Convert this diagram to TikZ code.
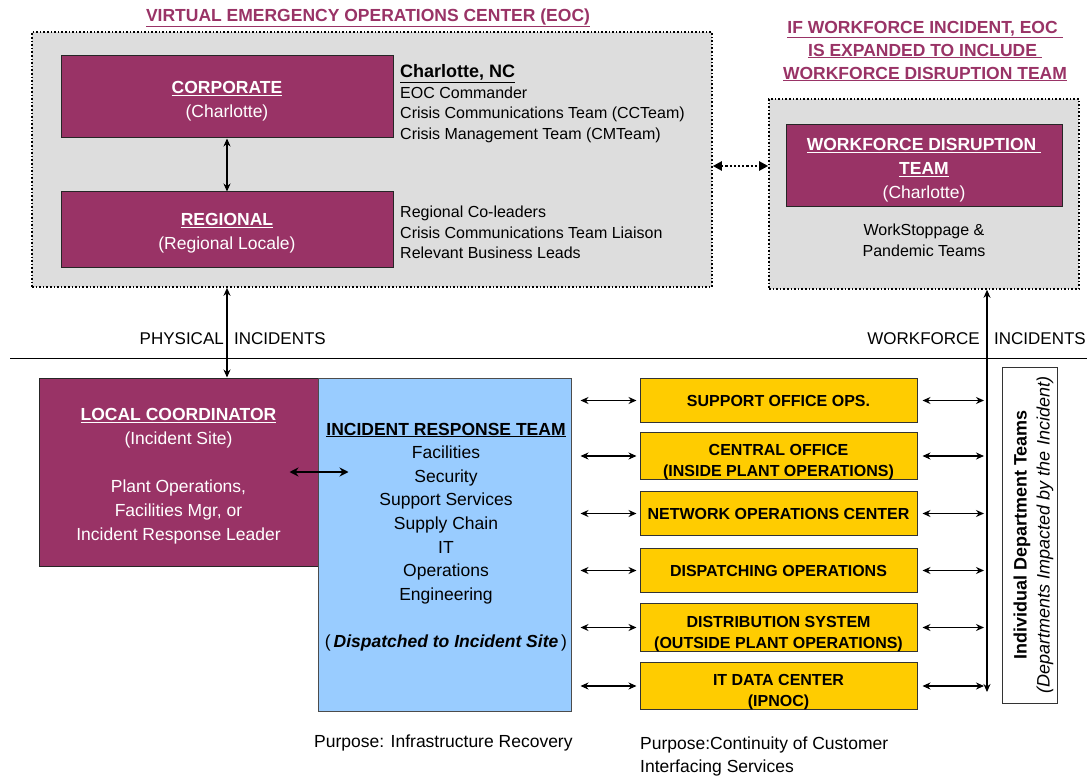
\documentclass[tikz,border=0pt]{standalone}
\usepackage{fontspec}
\setmainfont{Liberation Sans}
\usetikzlibrary{positioning,arrows.meta}
\definecolor{eocred}{HTML}{993366}
\definecolor{eocgrey}{HTML}{DDDDDD}
\definecolor{irtblue}{HTML}{99CCFF}
\definecolor{opsyellow}{HTML}{FFCC00}
\newcommand{\padtop}[1]{\rule{0pt}{#1}}

\begin{document}
\begin{tikzpicture}[x=1pt, y=-1pt,
  zone/.style={draw, dotted, line width=1.6pt, fill=eocgrey, inner sep=0},
  lead/.style={draw=black!85, line width=1pt, fill=eocred, text=white, align=center, inner sep=0, font=\fontsize{17.5}{24}\selectfont},
  ops/.style={draw=black!80, line width=1pt, fill=opsyellow, align=center, minimum width=277pt, minimum height=44pt, inner sep=0, font=\fontsize{16}{21}\selectfont\bfseries},
  txt/.style={align=left, inner sep=0, font=\fontsize{16}{20.5}\selectfont},
  hdr/.style={text=eocred, align=center, inner sep=0, font=\fontsize{17.5}{23}\selectfont\bfseries},
  arr/.style={line width=1.1pt, {Stealth[length=8pt,width=7pt]}-{Stealth[length=8pt,width=7pt]}}]
	\useasboundingbox (0,0) rectangle (1087,778);

	\node[zone, minimum width=680pt, minimum height=255pt] (eoc) at (372,159.5) {};
	\node[hdr] (eoctitle) at (368,18) {\underline{VIRTUAL EMERGENCY OPERATIONS CENTER (EOC)}};
	\node[lead, minimum width=332pt, minimum height=82pt] (corp) at (227,97) {\padtop{20.5pt}\underline{\textbf{CORPORATE}}\\(Charlotte)};
	\node[lead, minimum width=332pt, minimum height=75pt] (reg) at (227,229.5) {\padtop{20.5pt}\underline{\textbf{REGIONAL}}\\(Regional Locale)};
	\node[txt, anchor=north west] (corplist) at (400,64.5) {{\fontsize{18}{20.5}\selectfont\bfseries\underline{Charlotte, NC}}\\EOC Commander\\Crisis Communications Team (CCTeam)\\Crisis Management Team (CMTeam)};
	\node[txt, anchor=north west] (reglist) at (400,206) {Regional Co-leaders\\Crisis Communications Team Liaison\\Relevant Business Leads};

	\node[hdr] (wftitle) at (925,51) {\underline{IF WORKFORCE INCIDENT, EOC\ }\\\underline{IS EXPANDED TO INCLUDE\ }\\\underline{WORKFORCE DISRUPTION TEAM}};
	\node[zone, minimum width=310pt, minimum height=190pt] (wfbox) at (924,194) {};
	\node[lead, minimum width=276pt, minimum height=82pt] (wfteam) at (924,166) {\padtop{20.5pt}\underline{\textbf{WORKFORCE DISRUPTION\ }}\\\underline{\textbf{TEAM}}\\(Charlotte)};
	\node[txt, align=center, font=\fontsize{16}{21}\selectfont] (wfsub) at (924,240) {WorkStoppage \&\\Pandemic Teams};

	\draw[arr] (corp) -- (reg);
	\draw[line width=2.2pt, dotted, {Triangle[length=9pt,width=9pt]}-{Triangle[length=9pt,width=9pt]}] (eoc.east |- wfteam) -- (wfbox.west |- wfteam);

	\coordinate (divl) at (10,358);
	\coordinate (divr) at (1087,358);
	\draw[line width=1pt] (divl) -- (divr);
	\node[txt, anchor=east, font=\fontsize{17}{20}\selectfont] (physa) at (224,339) {PHYSICAL};
	\node[txt, anchor=west, font=\fontsize{17}{20}\selectfont] (physb) at (234,339) {INCIDENTS};
	\node[txt, anchor=east, font=\fontsize{17}{20}\selectfont] (worka) at (980,339) {WORKFORCE};
	\node[txt, anchor=west, font=\fontsize{17}{20}\selectfont] (workb) at (994,339) {INCIDENTS};

	\node[lead, minimum width=279pt, minimum height=188pt] (lc) at (178.5,472) {\padtop{20.5pt}\underline{\textbf{LOCAL COORDINATOR}}\\(Incident Site)\\[24pt]Plant Operations,\\Facilities Mgr, or\\Incident Response Leader};
	\node[draw=black!70, line width=1pt, fill=irtblue, minimum width=253pt, minimum height=333pt, inner sep=0] (irt) at (444.5,544.5) {};
	\node[txt, align=center, font=\fontsize{17.5}{23.6}\selectfont] (irttext) at (446,537) {\underline{\textbf{INCIDENT RESPONSE TEAM}}\\Facilities\\Security\\Support Services\\Supply Chain\\IT\\Operations\\Engineering\\[23.6pt](\,\textbf{\textit{Dispatched to Incident Site}}\,)};
	\draw[arr] (reg.south |- eoc.south) -- (reg.south |- lc.north);
	\draw[line width=2.5pt, {Stealth[length=9pt,width=9pt]}-{Stealth[length=9pt,width=9pt]}] ([xshift=-29pt]lc.east) -- ([xshift=30pt]lc.east);

	\node[ops] (sop) at (778.5,400.5) {SUPPORT OFFICE OPS.};
	\node[ops] (co) at (778.5,456) {\padtop{23.5pt}CENTRAL OFFICE\\(INSIDE PLANT OPERATIONS)};
	\node[ops] (noc) at (778.5,513.5) {NETWORK OPERATIONS CENTER};
	\node[ops] (dsp) at (778.5,570.5) {DISPATCHING OPERATIONS};
	\node[ops] (dist) at (778.5,627.5) {\padtop{23.5pt}DISTRIBUTION SYSTEM\\(OUTSIDE PLANT OPERATIONS)};
	\node[ops] (itdc) at (778.5,686) {\padtop{23.5pt}IT DATA CENTER\\(IPNOC)};

	\coordinate (vbot) at (987,692);
	\draw[arr] (wfbox.south -| vbot) -- (vbot);

	\draw[arr, shorten <=9pt, shorten >=3pt] (irt.east |- sop) -- (sop);
	\draw[arr, shorten <=9pt, shorten >=3pt] (irt.east |- co) -- (co);
	\draw[arr, shorten <=9pt, shorten >=3pt] (irt.east |- noc) -- (noc);
	\draw[arr, shorten <=9pt, shorten >=3pt] (irt.east |- dsp) -- (dsp);
	\draw[arr, shorten <=9pt, shorten >=3pt] (irt.east |- dist) -- (dist);
	\draw[arr, shorten <=9pt, shorten >=3pt] (irt.east |- itdc) -- (itdc);
	\draw[arr, shorten <=5pt, shorten >=3pt] (sop) -- (sop -| vbot);
	\draw[arr, shorten <=5pt, shorten >=3pt] (co) -- (co -| vbot);
	\draw[arr, shorten <=5pt, shorten >=3pt] (noc) -- (noc -| vbot);
	\draw[arr, shorten <=5pt, shorten >=3pt] (dsp) -- (dsp -| vbot);
	\draw[arr, shorten <=5pt, shorten >=3pt] (dist) -- (dist -| vbot);
	\draw[arr, shorten <=5pt, shorten >=3pt] (itdc) -- (itdc -| vbot);

	\node[draw=black!80, line width=1pt, rotate=90, minimum width=336pt, minimum height=55pt, inner sep=0, align=center, font=\fontsize{18}{23}\selectfont] (idt) at (1029.5,535) {\padtop{21pt}\textbf{Individual Department Teams}\\\textit{(Departments Impacted by the Incident)}};

	\node[txt, anchor=west, font=\fontsize{17.5}{23}\selectfont] (purp1) at (314,743) {Purpose: Infrastructure Recovery};
	\node[txt, anchor=north west, font=\fontsize{17.5}{23}\selectfont] (purp2) at (640,737) {Purpose:Continuity of Customer\\Interfacing Services};
\end{tikzpicture}
\end{document}
